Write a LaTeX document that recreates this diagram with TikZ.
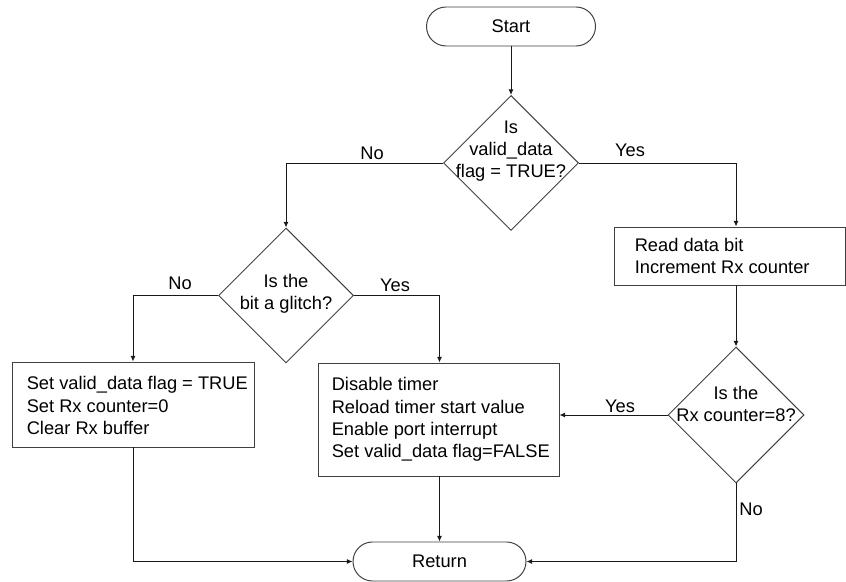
\documentclass[tikz,border=0pt]{standalone}
\usepackage{fontspec}
\setmainfont{Liberation Sans}
\usetikzlibrary{shapes.geometric,shapes.misc,arrows.meta}

\newcommand{\px}{0.025cm}
\newcommand{\flowLineWidth}{0.7pt}
\newcommand{\termHeight}{39}
\newcommand{\decisionSize}{135}

\tikzset{
    terminal/.style={rounded rectangle, draw=black!75, line width=\flowLineWidth, minimum height=\termHeight*\px, inner sep=0pt},
    decision/.style={diamond, draw=black!75, line width=\flowLineWidth, inner sep=0pt, minimum width=\decisionSize*\px, minimum height=\decisionSize*\px},
    process/.style={rectangle, draw=black!75, line width=\flowLineWidth, inner sep=0pt},
    boxtext/.style={anchor=west, align=left, inner sep=0pt},
    dtext/.style={align=center, inner sep=0pt},
    flow/.style={draw=black!90, line width=\flowLineWidth, -{Latex[length=4pt,width=3.6pt]}},
    branch/.style={inner sep=0pt}
}

\begin{document}
\begin{tikzpicture}[x=\px, y=-\px, font=\fontsize{13}{15.8}\selectfont]
        \useasboundingbox (0,0) rectangle (846,582);

        % Terminals
        \node[terminal, minimum width=169*\px] (start) at (511,26.5) {Start};
        \node[terminal, minimum width=173*\px] (return) at (439.5,561.5) {Return};

        % Decisions
        \node[decision] (validQ) at (511,163) {};
        \node[dtext] (validQText) at (511,151) {Is\\valid\_data\\flag = TRUE?};
        \node[decision] (glitchQ) at (286,295.5) {};
        \node[dtext] (glitchQText) at (286,294) {Is the\\bit a glitch?};
        \node[decision, minimum width=136*\px, minimum height=136*\px] (countQ) at (736,415) {};
        \node[dtext] (countQText) at (736,404) {Is the\\Rx counter=8?};

        % Process boxes
        \node[process, minimum width=231*\px, minimum height=58*\px] (readBox) at (729.5,256) {};
        \node[boxtext] (readText) at ([xshift=21*\px]readBox.west) {Read data bit\\Increment Rx counter};
        \node[process, minimum width=242*\px, minimum height=85*\px] (resetBox) at (133,404.5) {};
        \node[boxtext] (resetText) at ([xshift=15*\px,yshift=-1*\px]resetBox.west) {Set valid\_data flag = TRUE\\Set Rx counter=0\\Clear Rx buffer};
        \node[process, minimum width=241*\px, minimum height=113*\px] (disableBox) at (438.5,419.5) {};
        \node[boxtext] (disableText) at ([xshift=14*\px]disableBox.west) {Disable timer\\Reload timer start value\\Enable port interrupt\\Set valid\_data flag=FALSE};

        % Draw connectors
        \draw[flow] (start.south) -- (validQ.north);
        \draw[flow] (validQ.west) -| (glitchQ.north);
        \draw[flow] (validQ.east) -| (readBox.north -| countQ.north);
        \draw[flow] (readBox.south -| countQ.north) -- (countQ.north);
        \draw[flow] (glitchQ.west) -| (resetBox.north);
        \draw[flow] (glitchQ.east) -| (disableBox.north -| return.north);
        \draw[flow] (countQ.west) -- (countQ.west -| disableBox.east);
        \draw[flow] (disableBox.south -| return.north) -- (return.north);
        \draw[flow] (resetBox.south) |- (return.west);
        \draw[flow] (countQ.south) |- (return.east);

        % Branch labels
        \node[branch] (noValid) at (372,153) {No};
        \node[branch] (yesValid) at (630,150) {Yes};
        \node[branch] (noGlitch) at (180,283) {No};
        \node[branch] (yesGlitch) at (395,285) {Yes};
        \node[branch] (yesCount) at (620,406) {Yes};
        \node[branch] (noCount) at (751,509) {No};
    \end{tikzpicture}
\end{document}
